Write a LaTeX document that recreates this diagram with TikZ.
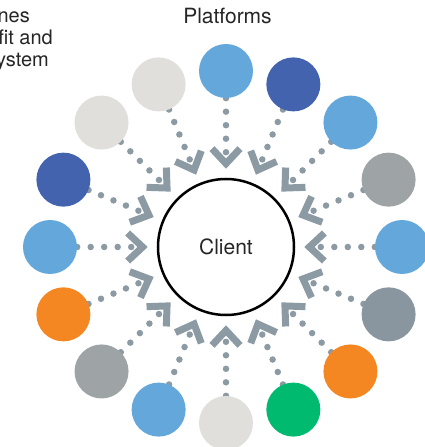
\documentclass[tikz,border=0pt]{standalone}
\usepackage{fontspec}
\setmainfont{TeX Gyre Heros}
\usetikzlibrary{arrows.meta,backgrounds}
\definecolor{lightblue}{HTML}{64A7DA}
\definecolor{darkblue}{HTML}{4363AE}
\definecolor{lightgrey}{HTML}{E0DFDC}
\definecolor{midgrey}{HTML}{9EA3A6}
\definecolor{slategrey}{HTML}{8A969F}
\definecolor{platorange}{HTML}{F48722}
\definecolor{platgreen}{HTML}{00BA6F}
\definecolor{linkgrey}{HTML}{8C9AA3}
\tikzset{
  src/.style = {circle, minimum size = 54pt, inner sep = 0pt},
  link/.style = {color = linkgrey, line width = 6.5pt, line cap = round,
    dash pattern = on 0pt off 13.5pt, shorten > = 9pt,
    -{Straight Barb[length = 15pt, width = 28pt, line width = 7pt]}},
  label/.style = {font = \fontsize{21}{25}\selectfont, text = black!85},
  note/.style = {font = \fontsize{20}{24}\selectfont, text = black!85, inner sep = 0pt, anchor = base east},
}
\begin{document}
\begin{tikzpicture}[x = 1pt, y = 1pt]
\useasboundingbox (-226, -200) rectangle (199, 247);
\node (client) at (0, 0) [circle, draw, line width = 2.5pt, minimum size = 136pt, label] {Client};
\node (title) at (1.5, 223) [label, anchor = base] {Platforms};
\node (noteA) at (-196, 224) [note] {nes};
\node (noteB) at (-173, 202) [note] {fit and};
\node (noteC) at (-177, 180) [note] {ystem};
% platforms, clockwise from the top
\node (p0) at (90:176) [src, fill = lightblue] {};
\node (p1) at (67.5:176) [src, fill = darkblue] {};
\node (p2) at (45:176) [src, fill = lightblue] {};
\node (p3) at (22.5:176) [src, fill = midgrey] {};
\node (p4) at (0:176) [src, fill = lightblue] {};
\node (p5) at (-22.5:176) [src, fill = slategrey] {};
\node (p6) at (-45:176) [src, fill = platorange] {};
\node (p7) at (-67.5:176) [src, fill = platgreen] {};
\node (p8) at (-90:176) [src, fill = lightgrey] {};
\node (p9) at (-112.5:176) [src, fill = lightblue] {};
\node (p10) at (-135:176) [src, fill = midgrey] {};
\node (p11) at (-157.5:176) [src, fill = platorange] {};
\node (p12) at (180:176) [src, fill = lightblue] {};
\node (p13) at (157.5:176) [src, fill = darkblue] {};
\node (p14) at (135:176) [src, fill = lightgrey] {};
\node (p15) at (112.5:176) [src, fill = lightgrey] {};
\begin{pgfonlayer}{background}
\draw [link] (p0) -- (client);
\draw [link] (p1) -- (client);
\draw [link] (p2) -- (client);
\draw [link] (p3) -- (client);
\draw [link] (p4) -- (client);
\draw [link] (p5) -- (client);
\draw [link] (p6) -- (client);
\draw [link] (p7) -- (client);
\draw [link] (p8) -- (client);
\draw [link] (p9) -- (client);
\draw [link] (p10) -- (client);
\draw [link] (p11) -- (client);
\draw [link] (p12) -- (client);
\draw [link] (p13) -- (client);
\draw [link] (p14) -- (client);
\draw [link] (p15) -- (client);
\end{pgfonlayer}
\end{tikzpicture}
\end{document}
